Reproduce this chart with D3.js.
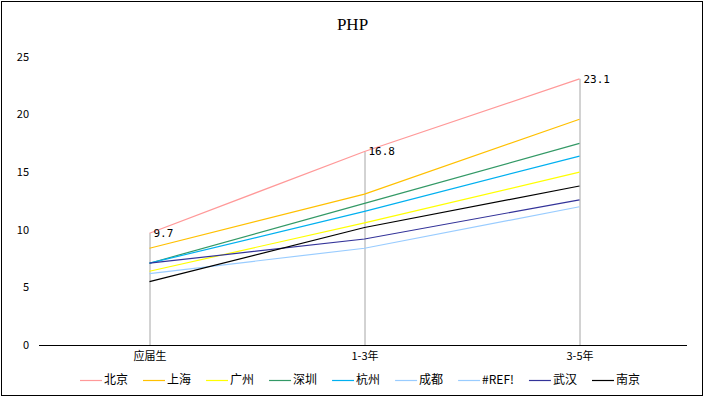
<!DOCTYPE html>
<html>
<head>
<meta charset="utf-8">
<script src="https://cdn.jsdelivr.net/npm/d3@7"></script>
<style>
  body { margin: 0; background: #fff; }
  text { font-family: "Noto Sans CJK SC", "DejaVu Sans", sans-serif; }
</style>
</head>
<body>
<div class="chart-holder"></div>
<script>
// Categories and series values
const categories = ["应届生", "1-3年", "3-5年"];
const seriesNames = ["北京", "上海", "广州", "深圳", "杭州", "成都", "#REF!", "武汉", "南京"];
const beijing = [9.7, 16.8, 23.1];
const shanghai = [8.4, 13.1, 19.6];
const guangzhou = [6.4, 10.6, 15.0];
const shenzhen = [7.1, 12.3, 17.5];
const hangzhou = [7.1, 11.6, 16.4];
const chengdu = [6.2, 8.4, 12.0];
const ref = [];
const wuhan = [7.1, 9.2, 12.6];
const nanjing = [5.5, 10.2, 13.8];
const yTicks = [0, 5, 10, 15, 20, 25];

const seriesValues = [beijing, shanghai, guangzhou, shenzhen, hangzhou, chengdu, ref, wuhan, nanjing];
const colors = ["#ff9999", "#ffc000", "#ffff00", "#339966", "#00b0f0", "#99ccff", "#99ccff", "#333399", "#000000"];

const width = 705;
const height = 398;
const margin = { top: 57, right: 18, bottom: 53, left: 42 };

const svg = d3.select('.chart-holder').append('svg')
  .attr('width', width)
  .attr('height', height);

// outer frame
svg.append('rect')
  .attr('x', 1.5).attr('y', 1.5)
  .attr('width', width - 4).attr('height', height - 4)
  .attr('fill', 'none')
  .attr('stroke', '#000');

const xScale = d3.scalePoint()
  .domain(categories)
  .range([margin.left, width - margin.right])
  .padding(0.5);

const yScale = d3.scaleLinear()
  .domain([0, 25])
  .range([height - margin.bottom, margin.top]);

// title
svg.append('text')
  .attr('x', width / 2)
  .attr('y', 30)
  .attr('text-anchor', 'middle')
  .style('font-family', '"Liberation Serif", serif')
  .style('font-size', '17px')
  .text('PHP');

// y labels
svg.append('g').selectAll('text')
  .data(yTicks)
  .join('text')
  .attr('x', 29)
  .attr('y', d => yScale(d))
  .attr('dy', '0.35em')
  .attr('text-anchor', 'end')
  .style('font-size', '11px')
  .text(d => d);

// high-low lines at each category
svg.append('g').selectAll('line')
  .data(categories.map((c, i) => ({ c, v: d3.max(seriesValues, s => s[i]) })))
  .join('line')
  .attr('x1', d => xScale(d.c) + 0.5)
  .attr('x2', d => xScale(d.c) + 0.5)
  .attr('y1', d => yScale(d.v))
  .attr('y2', yScale(0))
  .attr('stroke', '#a6a6a6')
  .attr('stroke-width', 1);

// x axis
const xAxis = svg.append('g')
  .attr('transform', 'translate(0,' + (yScale(0) + 0.5) + ')')
  .call(d3.axisBottom(xScale).tickSize(0).tickPadding(7));
xAxis.select('.domain')
  .attr('d', 'M' + (margin.left - 3) + ',0H' + (width - margin.right));
xAxis.selectAll('text')
  .style('font-size', '11px')
  .style('font-family', '"Noto Sans CJK SC", sans-serif')
  .attr('fill', '#000');

// lines
const line = d3.line()
  .x((d, i) => xScale(categories[i]))
  .y(d => yScale(d));

svg.append('g').selectAll('path')
  .data(seriesValues.map((v, i) => ({ v, color: colors[i] })).filter(d => d.v.length))
  .join('path')
  .attr('fill', 'none')
  .attr('stroke', d => d.color)
  .attr('stroke-width', 1.2)
  .attr('d', d => line(d.v));

// data labels for 北京
svg.append('g').selectAll('text')
  .data(beijing)
  .join('text')
  .attr('x', (d, i) => xScale(categories[i]) + 4)
  .attr('y', d => yScale(d) + 4)
  .style('font-size', '11px')
  .style('font-family', '"DejaVu Sans Mono", monospace')
  .text(d => d.toFixed(1));

// legend
const legend = svg.append('g')
  .attr('transform', 'translate(80,380)');
let lx = 0;
seriesNames.forEach((name, i) => {
  const item = legend.append('g').attr('transform', 'translate(' + lx + ',0)');
  item.append('line')
    .attr('x1', 0).attr('x2', 22)
    .attr('y1', 0.5).attr('y2', 0.5)
    .attr('stroke', colors[i])
    .attr('stroke-width', 1.2);
  const t = item.append('text')
    .attr('x', 24)
    .attr('y', 0)
    .attr('dy', '0.35em')
    .style('font-size', '12px')
    .text(name);
  lx += 24 + t.node().getComputedTextLength() + 15;
});
</script>
</body>
</html>
